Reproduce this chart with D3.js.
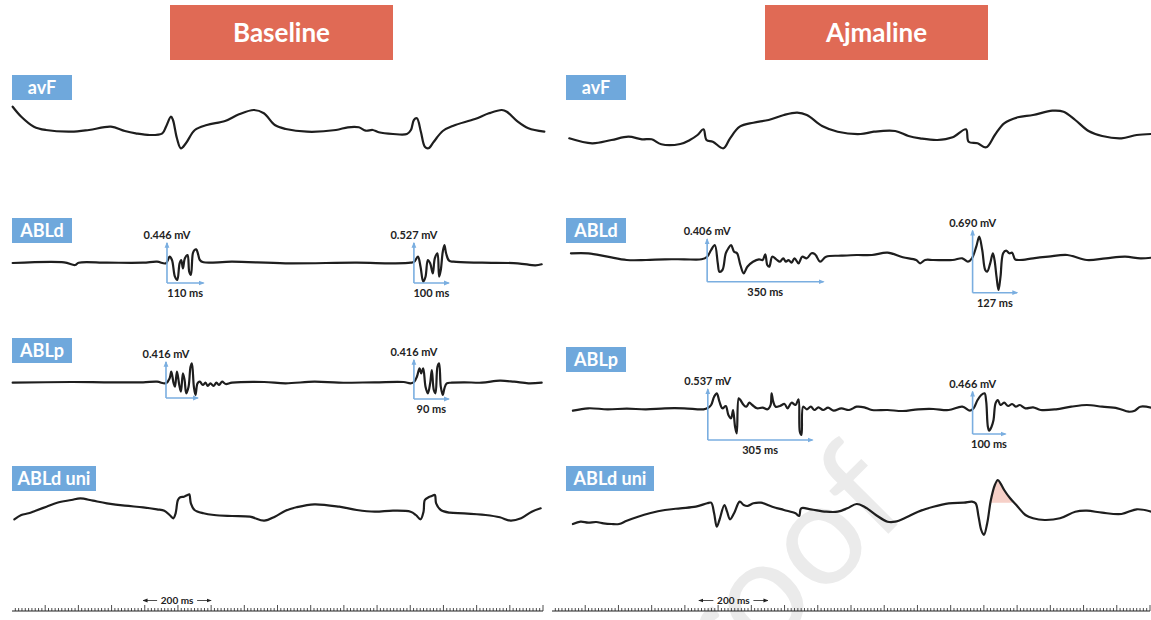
<!DOCTYPE html>
<html>
<head>
<meta charset="utf-8">
<script src="https://cdn.jsdelivr.net/npm/d3@7"></script>
<style>
body { margin: 0; background: #fff; }
text { font-family: Lato, "Open Sans", sans-serif; }
</style>
</head>
<body>
<svg id="chart" width="1151" height="620"></svg>
<script>
// ---------- data: [time ms, amplitude] ----------
var panelTitles = ["Baseline", "Ajmaline"];
var rowLabels = ["avF", "ABLd", "ABLp", "ABLd uni"];

var avfBase = [[2,2.33],[28,1.33],[66,0.33],[102,0],[178,-0.17],[232,0],[298,0.33],[340,-0.1],[373,-0.33],[416,-0.5],[453,-0.33],[464,0.33],[479,1.33],[485,1.0],[497,-0.83],[509,-1.83],[524,-1.33],[551,0],[587,0.5],[642,0.9],[684,1.57],[729,2.0],[759,1.67],[792,0.5],[825,0.1],[889,-0.17],[976,0],[1012,0.27],[1045,0.27],[1066,-0.07],[1087,0],[1105,-0.23],[1148,-0.4],[1190,-0.4],[1202,0],[1211,1.0],[1220,1.17],[1232,-0.17],[1244,-1.67],[1255,-1.83],[1271,-1.17],[1298,-0.1],[1330,0.43],[1395,1.1],[1437,1.67],[1476,2.0],[1491,1.83],[1524,0.83],[1556,0.17],[1604,-0.17]];
var avfAjm = [[52,0.67],[121,0.17],[179,0.5],[230,0.83],[271,0.57],[300,0.57],[329,0.07],[386,0.1],[415,0.5],[438,1.0],[456,1.57],[465,0.5],[484,0.33],[516,-0.33],[536,0.67],[565,1.83],[606,2.23],[652,2.5],[698,3.0],[738,3.23],[767,3.0],[813,1.9],[860,1.33],[929,1.1],[969,1.33],[1033,1.4],[1073,0.9],[1108,0.67],[1160,0.5],[1206,0.77],[1246,1.57],[1254,0.33],[1281,0.17],[1307,-0.23],[1333,1.0],[1361,2.17],[1402,2.77],[1448,3.0],[1506,3.43],[1540,3.33],[1575,2.5],[1615,1.4],[1656,0.9],[1714,0.67],[1760,1.0],[1804,1.1]];

var abldBase = [[2,0],[157,0.07],[190,-0.2],[201,0.03],[286,0.03],[395,0.03],[437,0.13],[464,-0.03],[475,0.63],[482,0.3],[491,-1.37],[498,-1.7],[505,-0.03],[510,0.3],[515,-0.53],[521,0.47],[529,0.8],[534,-0.87],[539,-1.2],[545,0.97],[550,1.3],[555,1.37],[560,0.97],[566,0.3],[577,0.07],[663,0.13],[824,-0.03],[1039,0.03],[1148,-0.03],[1201,0.03],[1212,0.13],[1223,0.63],[1231,-0.37],[1239,-1.87],[1246,-1.37],[1253,0.3],[1260,-0.03],[1268,-1.03],[1274,0.47],[1282,0.97],[1287,-1.37],[1292,-0.7],[1298,1.13],[1303,1.8],[1308,0.97],[1317,0.23],[1330,0.13],[1416,0.03],[1524,-0.03],[1577,-0.23],[1596,-0.13]];
var abldAjm = [[57,0.47],[109,0.47],[167,0.13],[225,-0.2],[283,-0.2],[340,-0.13],[398,-0.13],[450,-0.13],[467,0.13],[479,0.8],[490,1.3],[499,-0.53],[504,-1.37],[513,-1.2],[523,0.47],[531,0.97],[539,1.3],[548,0.63],[557,0.47],[567,-0.7],[577,-1.53],[588,-0.87],[605,-0.37],[623,-0.13],[634,-0.2],[642,0.37],[648,-0.7],[654,-0.87],[663,0.13],[675,-0.13],[686,-0.37],[696,-0.03],[704,-0.37],[712,-0.2],[721,-0.47],[730,-0.03],[742,-0.53],[753,0.13],[767,-0.03],[781,0.47],[792,0.37],[807,-0.37],[825,0.13],[871,0.23],[917,0.3],[963,0.3],[1010,0.53],[1056,0.07],[1096,-0.2],[1108,-0.53],[1123,-0.2],[1148,-0.2],[1206,-0.2],[1235,-0.03],[1252,-0.37],[1264,-0.03],[1277,1.13],[1286,2.13],[1295,0.8],[1304,-1.2],[1310,-1.37],[1319,-0.53],[1327,0.47],[1332,-0.2],[1338,-1.87],[1344,-3.2],[1350,-1.87],[1358,0.47],[1367,0.73],[1377,0.47],[1385,0.53],[1394,-0.13],[1408,-0.2],[1448,-0.03],[1494,0.13],[1551,0.3],[1610,-0.2],[1667,-0.03],[1725,0.13],[1771,-0.03],[1804,0.03]];

var ablpBase = [[2,0.03],[179,0.1],[286,0.07],[395,0.07],[437,0.13],[464,-0.03],[475,0.47],[480,1.13],[487,-0.03],[491,-0.37],[497,1.13],[504,-0.2],[509,-0.87],[515,0.97],[520,0.3],[525,-1.03],[532,-0.37],[538,1.63],[542,1.97],[548,-0.37],[553,-1.2],[559,-0.03],[566,0.13],[575,-0.2],[583,0.03],[590,-0.3],[598,-0.03],[607,-0.3],[616,0.03],[624,-0.2],[633,0.13],[644,-0.1],[663,0.03],[760,0.1],[824,-0.03],[911,0.13],[985,0.03],[1093,0.07],[1180,0.1],[1201,-0.03],[1212,0.13],[1220,0.63],[1228,1.47],[1233,0.97],[1239,1.47],[1246,-0.37],[1253,-1.03],[1260,-0.03],[1265,1.3],[1271,-0.7],[1276,-1.03],[1282,1.63],[1287,1.97],[1292,-0.37],[1298,-1.2],[1303,-0.53],[1310,-0.03],[1325,0.03],[1362,0.07],[1416,0.03],[1470,0.23],[1513,0.13],[1556,-0.03],[1596,0.03]];
var ablpAjm = [[63,-0.07],[109,0.17],[167,0.07],[225,0.13],[283,0.07],[340,0.17],[398,0.17],[456,0.07],[470,0.23],[479,0.5],[488,1.33],[496,1.67],[504,0.83],[513,0.17],[523,0.4],[531,-0.5],[539,-0.83],[545,0],[551,-1.67],[556,-2.33],[562,1.17],[567,1.0],[577,0.5],[585,0.33],[594,0.73],[603,0.5],[617,0.17],[634,0.23],[649,0.07],[658,0.5],[661,1.67],[666,0.83],[673,0.33],[686,0.4],[700,0.6],[709,0.17],[721,0.73],[733,0.5],[742,1.07],[746,-2.17],[751,-2.5],[756,0.33],[767,0.07],[779,0.33],[790,0],[802,0.27],[816,0],[831,0.23],[848,-0.07],[871,0.17],[894,0],[917,0.33],[940,0.27],[963,0],[1010,0],[1056,-0.1],[1102,0.07],[1148,0.1],[1194,0],[1235,0.33],[1258,-0.07],[1269,0.17],[1281,1.0],[1292,1.5],[1302,1.67],[1307,0.83],[1312,-1.67],[1316,-2.07],[1323,-1.67],[1329,-1.0],[1335,0.67],[1342,1.0],[1350,0.5],[1361,0.73],[1373,0.4],[1385,0.6],[1396,0.33],[1408,0.5],[1425,0.17],[1448,0.27],[1471,0],[1517,0.07],[1563,0.33],[1610,0.5],[1656,0.33],[1702,0.17],[1736,-0.17],[1754,-0.07],[1771,0.33],[1804,0.23]];

var uniBase = [[7,-0.93],[28,-0.5],[50,-0.33],[71,-0.07],[104,0.33],[136,0.73],[179,1.0],[206,1.17],[244,0.93],[286,0.67],[340,0.43],[395,0.27],[437,0.07],[459,-0.07],[475,-0.5],[486,-0.83],[493,-0.33],[500,1.0],[507,1.27],[518,1.33],[529,1.5],[534,1.57],[539,0.67],[550,0],[577,-0.33],[609,-0.5],[663,-0.6],[717,-0.67],[760,-1.07],[792,-0.67],[824,-0.07],[857,0.27],[911,0.57],[986,0.33],[1039,0],[1093,-0.17],[1148,-0.07],[1201,-0.17],[1217,-0.5],[1231,-0.93],[1240,-0.17],[1244,1.0],[1255,1.27],[1265,1.4],[1274,1.5],[1278,0.67],[1292,0],[1319,-0.27],[1362,-0.33],[1427,-0.5],[1470,-0.73],[1502,-1.07],[1534,-0.83],[1566,-0.17],[1593,0.17]];
var uniAjm = [[63,-1.4],[86,-1.17],[109,-1.27],[133,-1.2],[155,-1.33],[179,-1.4],[202,-1.4],[225,-1.07],[259,-0.67],[294,-0.33],[340,0],[386,0.17],[433,0.33],[467,0.67],[479,0.73],[488,-0.33],[496,-1.67],[504,-1.0],[519,0.5],[527,-0.17],[536,-0.93],[548,-0.33],[565,0.83],[577,0.5],[588,0.4],[606,0.67],[629,0.73],[663,0.33],[698,0],[733,-0.33],[744,-0.6],[750,0.17],[779,0.07],[825,-0.17],[860,-0.17],[889,0.17],[917,0.6],[940,0.33],[975,-0.5],[1010,-1.17],[1033,-1.17],[1067,-0.73],[1102,-0.17],[1148,0.33],[1194,0.67],[1240,0.73],[1264,0.83],[1275,0.67],[1284,-0.67],[1292,-2.0],[1300,-2.5],[1310,-1.33],[1321,1.0],[1333,2.5],[1342,3.0],[1350,2.67],[1361,2.0],[1379,1.17],[1402,0.33],[1425,-0.5],[1448,-0.83],[1483,-1.0],[1529,-0.83],[1575,-0.17],[1610,-0.07],[1656,-0.27],[1714,-0.4],[1760,0.07],[1804,-0.17]];

// shaded area under the ajmaline unipolar peak
var uniFill = [[1318,0.73],[1321,1.0],[1333,2.5],[1342,3.0],[1350,2.67],[1361,2.0],[1379,1.17],[1386,0.73]];
var uniFillLevel = 0.73;

// measurement annotations (time ms, arrow length ms, arrow top / bottom amplitude)
var annBase = [
  { row: 1, t: 467, len: 110, top: 2.0, bottom: -2.0, mv: "0.446 mV", ms: "110 ms" },
  { row: 1, t: 1211, len: 105, top: 2.0, bottom: -2.0, mv: "0.527 mV", ms: "100 ms" },
  { row: 2, t: 464, len: 96, top: 2.1, bottom: -1.5, mv: "0.416 mV", ms: "" },
  { row: 2, t: 1211, len: 105, top: 2.3, bottom: -1.6, mv: "0.416 mV", ms: "90 ms" }
];
var annAjm = [
  { row: 1, t: 467, len: 350, top: 1.87, bottom: -2.37, mv: "0.406 mV", ms: "350 ms" },
  { row: 1, t: 1266, len: 134, top: 2.73, bottom: -3.47, mv: "0.690 mV", ms: "127 ms" },
  { row: 2, t: 469, len: 315, top: 2.07, bottom: -3.0, mv: "0.537 mV", ms: "305 ms" },
  { row: 2, t: 1266, len: 99, top: 1.83, bottom: -2.4, mv: "0.466 mV", ms: "100 ms" }
];

// time ruler: total ms and the 200 ms marker span
var rulerBase = { total: 1600, mark: [395, 600] };
var rulerAjm = { total: 1800, mark: [442, 650] };

// ---------- layout ----------
var red = "#e06a55", blue = "#6fa8dc", arrowBlue = "#7aaee0", ink = "#1e1e1e";
var panels = [
  { title: panelTitles[0], titleX: 170, range: [12, 543], ruler: rulerBase,
    traces: [avfBase, abldBase, ablpBase, uniBase], ann: annBase,
    base: [130, 263, 383, 510], boxX: 12, boxY: [75, 218, 338, 466] },
  { title: panelTitles[1], titleX: 765, range: [552, 1150], ruler: rulerAjm,
    traces: [avfAjm, abldAjm, ablpAjm, uniAjm], ann: annAjm,
    base: [145, 258, 410, 510], boxX: 566, boxY: [75, 218, 347, 466] }
];
var pxPerUnit = 10;
var rulerY = 611;

var svg = d3.select("#chart");
var defs = svg.append("defs");
defs.append("marker")
    .attr("id", "arrowhead")
    .attr("viewBox", "0 0 10 10")
    .attr("refX", 8).attr("refY", 5)
    .attr("markerWidth", 6).attr("markerHeight", 6)
    .attr("markerUnits", "userSpaceOnUse")
    .attr("orient", "auto")
    .append("path").attr("d", "M0,1 L10,5 L0,9 z").attr("fill", arrowBlue);
defs.append("marker")
    .attr("id", "rulerhead")
    .attr("viewBox", "0 0 10 10")
    .attr("refX", 9).attr("refY", 5)
    .attr("markerWidth", 5).attr("markerHeight", 5)
    .attr("markerUnits", "userSpaceOnUse")
    .attr("orient", "auto")
    .append("path").attr("d", "M0,1 L10,5 L0,9 z").attr("fill", "#222");

// watermark (partly outside the frame, as in the source figure)
svg.append("text")
    .attr("transform", "translate(670,752) rotate(-45)")
    .attr("font-size", 145)
    .attr("font-weight", 400)
    .attr("fill", "#ebebeb")
    .text("proof");

panels.forEach(function (p) {
    var x = d3.scaleLinear().domain([0, p.ruler.total]).range(p.range);
    var g = svg.append("g");

    // title box
    g.append("rect").attr("x", p.titleX).attr("y", 5).attr("width", 223).attr("height", 55).attr("fill", red);
    g.append("text").attr("x", p.titleX + 111.5).attr("y", 42)
        .attr("text-anchor", "middle").attr("fill", "#fff")
        .attr("font-size", 26).attr("font-weight", 700)
        .text(p.title);

    rowLabels.forEach(function (lab, i) {
        var y = d3.scaleLinear().domain([0, 1]).range([p.base[i], p.base[i] - pxPerUnit]);
        var w = lab.length > 4 ? (p.boxX > 100 ? 88 : 84) : 60;
        g.append("rect").attr("x", p.boxX).attr("y", p.boxY[i]).attr("width", w).attr("height", 25).attr("fill", blue);
        g.append("text").attr("x", p.boxX + w / 2).attr("y", p.boxY[i] + 19)
            .attr("text-anchor", "middle").attr("fill", "#fff")
            .attr("font-size", 18).attr("font-weight", 700)
            .text(lab);

        // pink fill under ajmaline uni peak
        if (i === 3 && p.traces[i] === uniAjm) {
            var area = d3.area()
                .x(function (d) { return x(d[0]); })
                .y0(y(uniFillLevel))
                .y1(function (d) { return y(d[1]); })
                .curve(d3.curveCatmullRom.alpha(0.5));
            g.append("path").datum(uniFill).attr("d", area).attr("fill", "#f6d0c8");
        }

        var line = d3.line()
            .x(function (d) { return x(d[0]); })
            .y(function (d) { return y(d[1]); })
            .curve(d3.curveCatmullRom.alpha(0.5));
        g.append("path").datum(p.traces[i])
            .attr("d", line)
            .attr("fill", "none")
            .attr("stroke", ink)
            .attr("stroke-width", 2.2)
            .attr("stroke-linejoin", "round")
            .attr("stroke-linecap", "round");
    });

    // annotations
    p.ann.forEach(function (a) {
        var y = d3.scaleLinear().domain([0, 1]).range([p.base[a.row], p.base[a.row] - pxPerUnit]);
        var x0 = x(a.t), yb = y(a.bottom), yt = y(a.top);
        g.append("line").attr("x1", x0).attr("y1", yb).attr("x2", x0).attr("y2", yt)
            .attr("stroke", arrowBlue).attr("stroke-width", 1.6).attr("marker-end", "url(#arrowhead)");
        g.append("line").attr("x1", x0).attr("y1", yb).attr("x2", x(a.t + a.len)).attr("y2", yb)
            .attr("stroke", arrowBlue).attr("stroke-width", 1.6).attr("marker-end", "url(#arrowhead)");
        g.append("text").attr("x", x0).attr("y", yt - 4)
            .attr("text-anchor", "middle").attr("font-size", 11).attr("font-weight", 700).attr("fill", "#222")
            .text(a.mv);
        if (a.ms) {
            g.append("text").attr("x", x(a.t + a.len / 2)).attr("y", yb + 14)
                .attr("text-anchor", "middle").attr("font-size", 11).attr("font-weight", 700).attr("fill", "#222")
                .text(a.ms);
        }
    });

    // ruler
    var ticks = d3.range(10, p.ruler.total + 1, 10);
    g.append("line").attr("x1", x(0)).attr("x2", x(p.ruler.total)).attr("y1", rulerY).attr("y2", rulerY)
        .attr("stroke", "#222").attr("stroke-width", 1);
    g.selectAll(".tick").data(ticks).enter().append("line")
        .attr("x1", function (d) { return x(d); })
        .attr("x2", function (d) { return x(d); })
        .attr("y1", rulerY)
        .attr("y2", function (d) { return d % 100 === 0 ? rulerY - 6 : rulerY - 3; })
        .attr("stroke", "#222").attr("stroke-width", 0.8);

    var m0 = x(p.ruler.mark[0]), m1 = x(p.ruler.mark[1]), mc = (m0 + m1) / 2;
    g.append("text").attr("x", mc).attr("y", 604).attr("text-anchor", "middle")
        .attr("font-size", 10).attr("font-weight", 700).attr("fill", "#222").text("200 ms");
    g.append("line").attr("x1", mc - 20).attr("x2", m0).attr("y1", 600.5).attr("y2", 600.5)
        .attr("stroke", "#222").attr("stroke-width", 0.8).attr("marker-end", "url(#rulerhead)");
    g.append("line").attr("x1", mc + 20).attr("x2", m1).attr("y1", 600.5).attr("y2", 600.5)
        .attr("stroke", "#222").attr("stroke-width", 0.8).attr("marker-end", "url(#rulerhead)");
});
</script>
</body>
</html>
